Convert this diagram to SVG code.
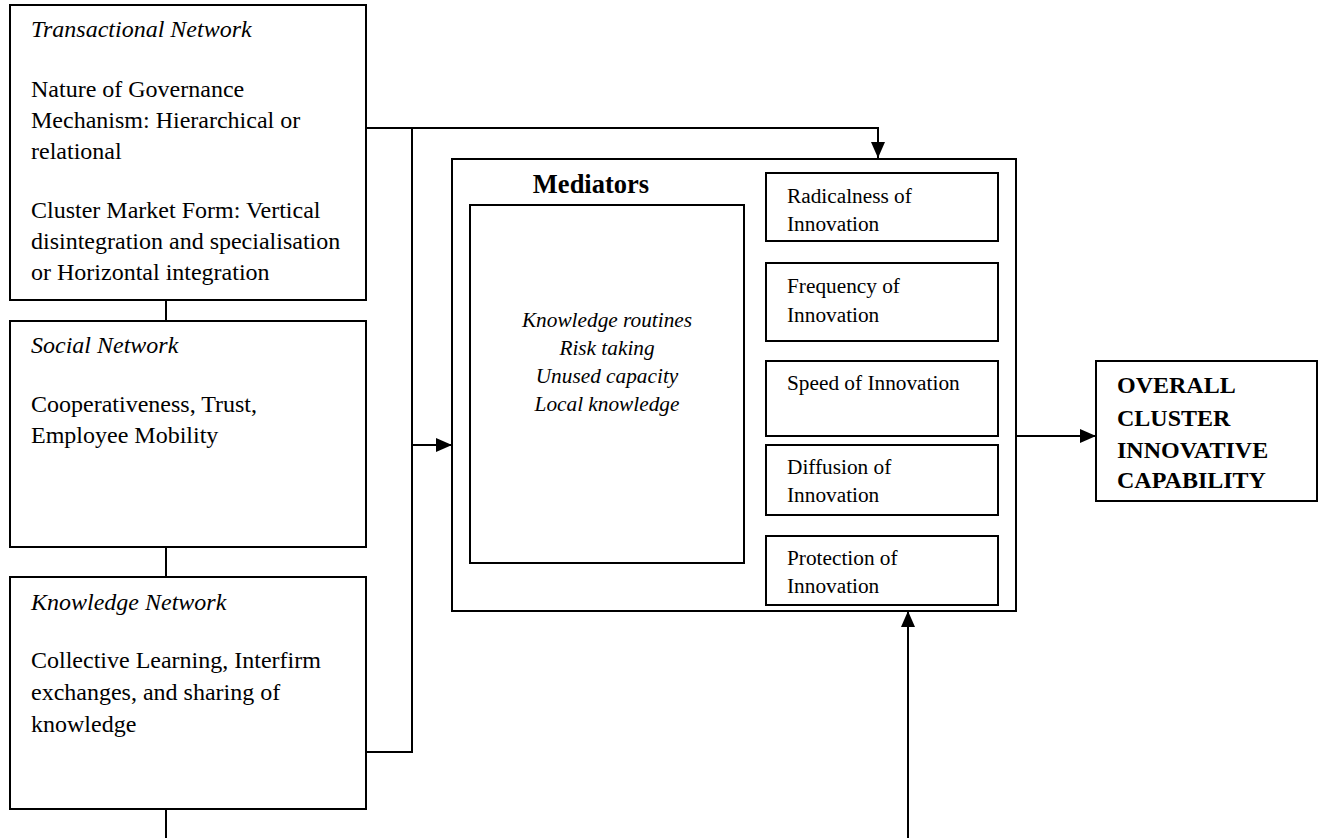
<svg xmlns="http://www.w3.org/2000/svg" width="1324" height="838" viewBox="0 0 1324 838">
<style>
.box{fill:#fff;stroke:#000;stroke-width:2}
.ln{fill:none;stroke:#000;stroke-width:2}
text{font-family:"Liberation Serif","Times New Roman",serif;fill:#000}
.t24{font-size:24px}
.t21{font-size:21.3px}
.it{font-style:italic}
.b{font-weight:bold}
</style>
<defs>
<marker id="ah" markerUnits="userSpaceOnUse" markerWidth="16" markerHeight="14" refX="16" refY="7" orient="auto">
<path d="M0,0 L16,7 L0,14 Z" fill="#000"/>
</marker>
</defs>
<rect width="1324" height="838" fill="#fff"/>
<g id="connectors">
<line class="ln" x1="166" y1="300" x2="166" y2="321"/>
<line class="ln" x1="166" y1="547" x2="166" y2="577"/>
<line class="ln" x1="166" y1="809" x2="166" y2="838"/>
<polyline class="ln" points="366,128 878,128 878,158" marker-end="url(#ah)"/>
<polyline class="ln" points="366,752 412,752 412,128"/>
<line class="ln" x1="412" y1="445" x2="452" y2="445" marker-end="url(#ah)"/>
<line class="ln" x1="1016" y1="436" x2="1096" y2="436" marker-end="url(#ah)"/>
<line class="ln" x1="908" y1="838" x2="908" y2="611" marker-end="url(#ah)"/>
</g>
<g id="transactional">
<rect class="box" x="10" y="5" width="356" height="295"/>
<text class="t24 it" x="31" y="37">Transactional Network</text>
<text class="t24" x="31" y="97">Nature of Governance</text>
<text class="t24" x="31" y="128">Mechanism: Hierarchical or</text>
<text class="t24" x="31" y="159">relational</text>
<text class="t24" x="31" y="218">Cluster Market Form: Vertical</text>
<text class="t24" x="31" y="249">disintegration and specialisation</text>
<text class="t24" x="31" y="280">or Horizontal integration</text>
</g>
<g id="social">
<rect class="box" x="10" y="321" width="356" height="226"/>
<text class="t24 it" x="31" y="353">Social Network</text>
<text class="t24" x="31" y="412">Cooperativeness, Trust,</text>
<text class="t24" x="31" y="443">Employee Mobility</text>
</g>
<g id="knowledge">
<rect class="box" x="10" y="577" width="356" height="232"/>
<text class="t24 it" x="31" y="610">Knowledge Network</text>
<text class="t24" x="31" y="668">Collective Learning, Interfirm</text>
<text class="t24" x="31" y="700">exchanges, and sharing of</text>
<text class="t24" x="31" y="732">knowledge</text>
</g>
<g id="mediators-group">
<rect class="box" x="452" y="159" width="564" height="452"/>
<text class="b" font-size="26.5" x="591" y="193" text-anchor="middle">Mediators</text>
</g>
<g id="mediators">
<rect class="box" x="470" y="205" width="274" height="358"/>
<text class="t21 it" x="607" y="327" text-anchor="middle">Knowledge routines</text>
<text class="t21 it" x="607" y="355" text-anchor="middle">Risk taking</text>
<text class="t21 it" x="607" y="383" text-anchor="middle">Unused capacity</text>
<text class="t21 it" x="607" y="411" text-anchor="middle">Local knowledge</text>
</g>
<g id="radicalness">
<rect class="box" x="766" y="173" width="232" height="68"/>
<text class="t21" x="787" y="203">Radicalness of</text>
<text class="t21" x="787" y="231">Innovation</text>
</g>
<g id="frequency">
<rect class="box" x="766" y="263" width="232" height="78"/>
<text class="t21" x="787" y="293">Frequency of</text>
<text class="t21" x="787" y="322">Innovation</text>
</g>
<g id="speed">
<rect class="box" x="766" y="361" width="232" height="75"/>
<text class="t21" x="787" y="390">Speed of Innovation</text>
</g>
<g id="diffusion">
<rect class="box" x="766" y="445" width="232" height="70"/>
<text class="t21" x="787" y="474">Diffusion of</text>
<text class="t21" x="787" y="502">Innovation</text>
</g>
<g id="protection">
<rect class="box" x="766" y="536" width="232" height="69"/>
<text class="t21" x="787" y="565">Protection of</text>
<text class="t21" x="787" y="593">Innovation</text>
</g>
<g id="overall">
<rect class="box" x="1096" y="361" width="221" height="140"/>
<text class="t24 b" x="1117" y="393">OVERALL</text>
<text class="t24 b" x="1117" y="426">CLUSTER</text>
<text class="t24 b" x="1117" y="458">INNOVATIVE</text>
<text class="t24 b" x="1117" y="488">CAPABILITY</text>
</g>
</svg>
